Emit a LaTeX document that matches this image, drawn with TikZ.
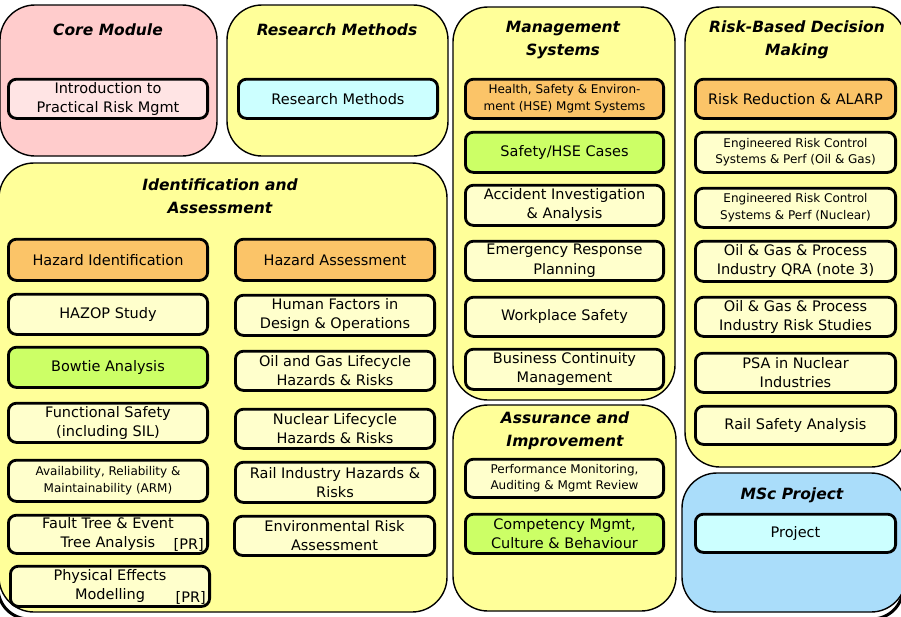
\documentclass[tikz,border=0pt]{standalone}
\usepackage{fontspec}
\setmainfont{DejaVu Sans}
\definecolor{contY}{HTML}{FFFF99}
\definecolor{contP}{HTML}{FFCCCC}
\definecolor{contB}{HTML}{AADDFA}
\definecolor{boxY}{HTML}{FFFFCC}
\definecolor{boxP}{HTML}{FFE4E4}
\definecolor{boxC}{HTML}{CCFFFF}
\definecolor{boxO}{HTML}{FBC468}
\definecolor{boxG}{HTML}{CCFF66}
\newcommand\mybox[7]{\node[bx,#6,minimum width={#4-#2-2.8},minimum height={#5-#3-2.8}] (#1) at ({(#2+#4)/2},{(#3+#5)/2+0.8}) {#7};}
\newcommand\mycont[6]{\node[cont,fill=#6,minimum width={#4-#2},minimum height={#5-#3}] (#1) at ({(#2+#4)/2},{(#3+#5)/2}) {};}
\tikzset{
  cont/.style={draw=black, line width=1.4pt, rounded corners=35pt, inner sep=0pt},
  bx/.style={draw=black, line width=2.8pt, rounded corners=8pt, align=center, inner sep=1pt, fill=boxY, font=\fontsize{14.5}{19.3}\selectfont},
  sm/.style={font=\fontsize{12}{16.5}\selectfont},
  ttl/.style={font=\fontsize{15.5}{23}\bfseries\itshape\selectfont, align=center, inner sep=0pt},
  prtag/.style={font=\fontsize{14.5}{19}\selectfont, inner sep=1pt, anchor=south east}
}
\begin{document}
\begin{tikzpicture}[x=1pt,y=-1pt]
\useasboundingbox (0,0) rectangle (901,616);
\begin{scope}
\clip (0,0) rectangle (901,616);
\draw[line width=3pt, rounded corners=31pt] (-2,-60) rectangle (903,619);
% containers
\mycont{core}{0}{5}{217}{156}{contP}
\mycont{rmc}{227}{5}{448}{156}{contY}
\mycont{iac}{-1}{163}{447}{612}{contY}
\mycont{msc}{453}{7}{675}{400}{contY}
\mycont{rbc}{685}{7}{906}{467}{contY}
\mycont{aic}{453}{405}{676}{611}{contY}
\mycont{mscp}{682}{473}{906}{612}{contB}
\end{scope}
% titles
\node[ttl] (tcore) at (108,30) {Core Module};
\node[ttl] (trm) at (337,30) {Research Methods};
\node[ttl] (tia) at (220,196) {Identification and\\Assessment};
\node[ttl] (tms) at (563,40) {Management\\Systems};
\node[ttl] (trb) at (797,40) {Risk-Based Decision\\Making};
\node[ttl] (tai) at (565,431) {Assurance and\\Improvement};
\node[ttl] (tmsc) at (792,495) {MSc Project};
% core / research
\mybox{intro}{7}{77}{209}{119}{fill=boxP}{Introduction to\\Practical Risk Mgmt}
\mybox{rmi}{237}{77}{439}{119}{fill=boxC}{Research Methods}
% identification and assessment
\mybox{hid}{7}{237}{209}{281}{fill=boxO}{Hazard Identification}
\mybox{has}{234}{237}{436}{281}{fill=boxO}{Hazard Assessment}
\mybox{hazop}{7}{292}{209}{335}{}{HAZOP Study}
\mybox{hf}{234}{293}{436}{336}{}{Human Factors in\\Design \& Operations}
\mybox{bow}{7}{345}{209}{388}{fill=boxG}{Bowtie Analysis}
\mybox{og}{234}{349}{436}{391}{}{Oil and Gas Lifecycle\\Hazards \& Risks}
\mybox{fs}{7}{401}{209}{443}{}{Functional Safety\\(including SIL)}
\mybox{nl}{234}{407}{436}{449}{}{Nuclear Lifecycle\\Hazards \& Risks}
\mybox{arm}{7}{458}{209}{502}{sm}{Availability, Reliability \&\\Maintainability (ARM)}
\mybox{rail}{234}{460}{436}{503}{}{Rail Industry Hazards \&\\Risks}
\mybox{ft}{7}{513}{209}{554}{}{Fault Tree \& Event\\Tree Analysis}
\mybox{env}{233}{514}{436}{556}{}{Environmental Risk\\Assessment}
\mybox{pe}{9}{564}{211}{607}{}{Physical Effects\\Modelling}
\node[prtag] (ftpr) at ([xshift=-4pt,yshift=2pt]ft.south east) {[PR]};
\node[prtag] (pepr) at ([xshift=-4pt,yshift=2pt]pe.south east) {[PR]};
% management systems
\mybox{hse}{464}{77}{665}{119}{fill=boxO,sm}{Health, Safety \& Environ-\\ment (HSE) Mgmt Systems}
\mybox{shc}{464}{130}{665}{173}{fill=boxG}{Safety/HSE Cases}
\mybox{acc}{464}{183}{665}{226}{}{Accident Investigation\\\& Analysis}
\mybox{erp}{464}{239}{665}{281}{}{Emergency Response\\Planning}
\mybox{wps}{464}{295}{665}{337}{}{Workplace Safety}
\mybox{bcm}{464}{347}{665}{390}{}{Business Continuity\\Management}
% risk-based decision making
\mybox{rr}{694}{77}{897}{119}{fill=boxO}{Risk Reduction \& ALARP}
\mybox{eog}{694}{130}{897}{173}{sm}{Engineered Risk Control\\Systems \& Perf (Oil \& Gas)}
\mybox{enu}{694}{186}{897}{228}{sm}{Engineered Risk Control\\Systems \& Perf (Nuclear)}
\mybox{qra}{694}{239}{897}{282}{}{Oil \& Gas \& Process\\Industry QRA (note 3)}
\mybox{ris}{694}{295}{897}{337}{}{Oil \& Gas \& Process\\Industry Risk Studies}
\mybox{psa}{694}{351}{897}{393}{}{PSA in Nuclear\\Industries}
\mybox{rsa}{694}{404}{897}{445}{}{Rail Safety Analysis}
% assurance and improvement
\mybox{pm}{464}{457}{665}{498}{sm}{Performance Monitoring,\\Auditing \& Mgmt Review}
\mybox{cm}{464}{512}{665}{554}{fill=boxG}{Competency Mgmt,\\Culture \& Behaviour}
% msc project
\mybox{proj}{694}{512}{897}{553}{fill=boxC}{Project}
\end{tikzpicture}
\end{document}
